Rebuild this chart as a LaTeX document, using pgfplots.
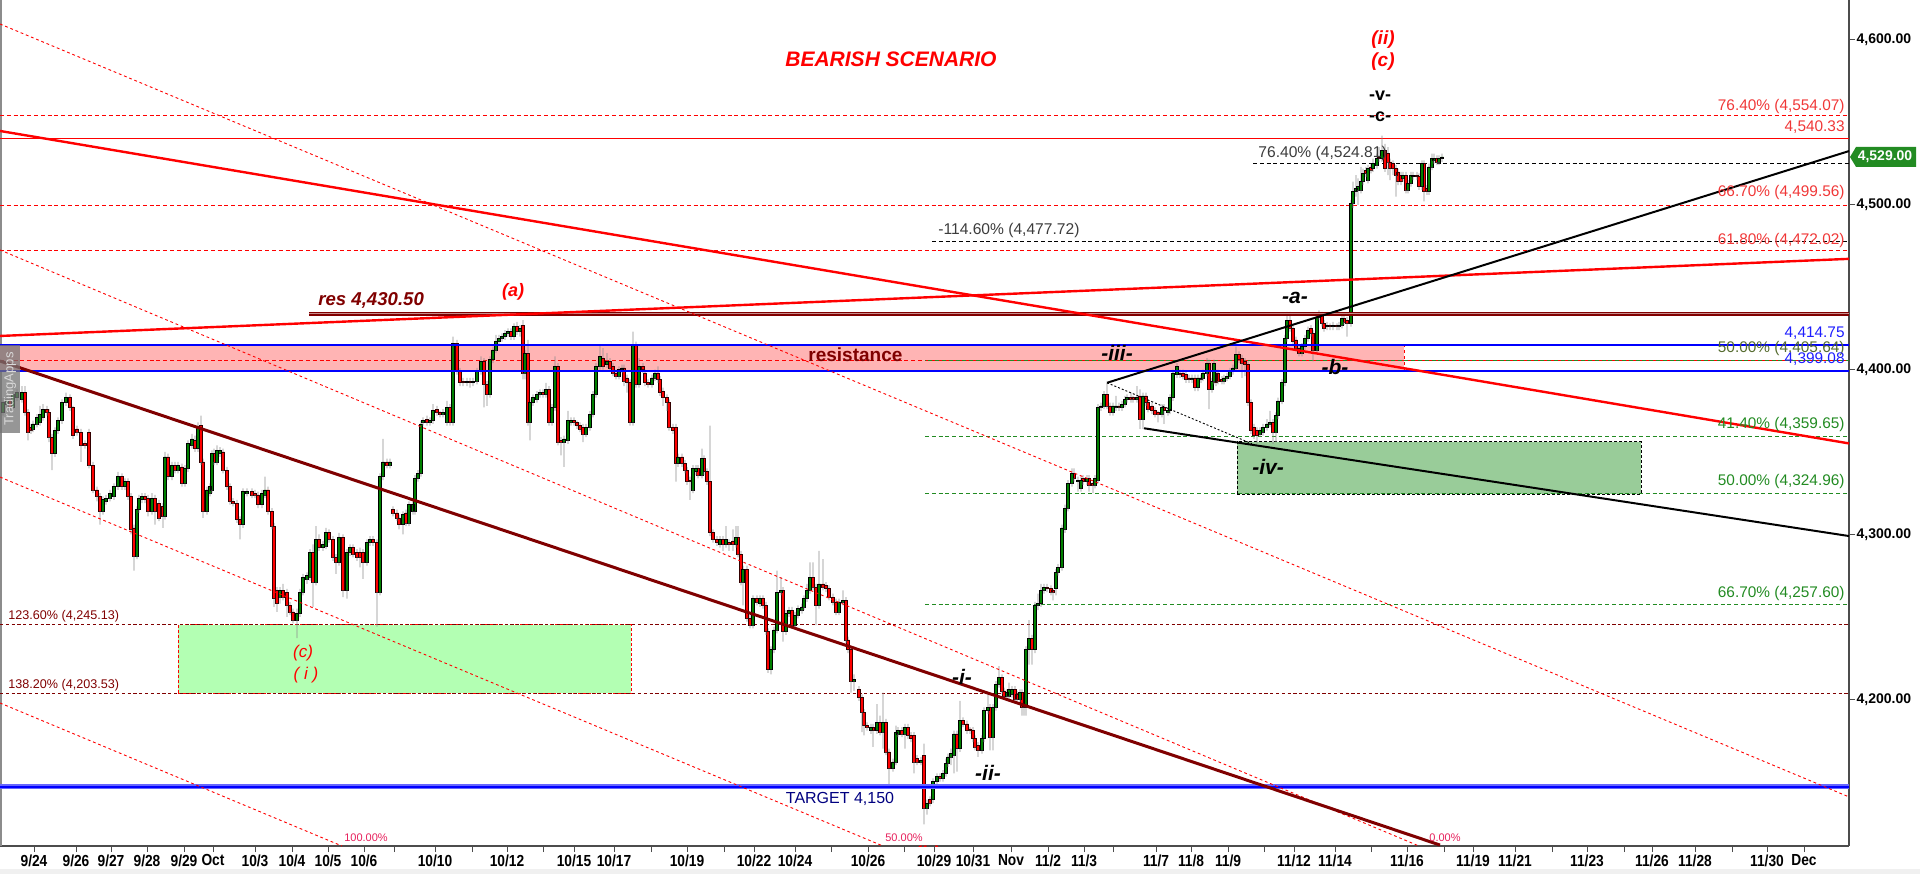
\documentclass[border=0pt]{standalone}
\usepackage{fontspec}
\setmainfont{Liberation Sans}
\usepackage{graphicx}
\usepackage{pgfplots}
\pgfplotsset{compat=1.18}
\usepackage{pgfplotstable}
\newcommand{\fs}[1]{\fontsize{#1}{#1}\selectfont}
\newcommand{\xl}[1]{\scalebox{0.86}[1]{#1}}
\definecolor{lred}{RGB}{240,55,55}
\definecolor{maroon}{RGB}{128,0,0}
\definecolor{lblue}{RGB}{30,30,255}
\definecolor{fgreen}{RGB}{34,139,34}
\definecolor{olivet}{RGB}{85,107,47}
\definecolor{pinkband}{RGB}{255,180,180}
\definecolor{lgreen}{RGB}{179,255,179}
\definecolor{dgreen}{RGB}{153,204,153}
\definecolor{candleg}{RGB}{0,128,0}
\definecolor{navyt}{RGB}{0,0,128}
\definecolor{tagg}{RGB}{34,139,34}
\definecolor{pinkt}{RGB}{230,30,90}
\definecolor{dgray}{RGB}{60,60,60}
\pgfplotsset{chartgeom/.style={scale only axis, width=924.5pt, height=423pt, xmin=0, xmax=1849, ymin=4110.92, ymax=4624.27}}

\pgfplotstableread{
x o h l c
3 4374 4383 4372 4380
7 4379 4384 4377 4382
10 4382 4384 4375 4377
13 4377 4388 4375 4385
17 4383 4388 4381 4386
22 4382 4390 4380 4386
25 4386 4390 4372 4374
28 4374 4376 4357 4362
31 4365 4367 4361 4363
33 4364 4369 4362 4367
37 4367 4373 4365 4371
40 4368 4378 4366 4373
43 4371 4379 4369 4376
47 4376 4378 4372 4374
49 4374 4376 4356 4359
52 4359 4361 4339 4349
55 4349 4365 4347 4363
58 4363 4371 4361 4369
62 4369 4382 4367 4380
66 4380 4386 4378 4383
70 4383 4385 4375 4377
73 4377 4378 4358 4360
77 4364 4366 4360 4362
81 4362 4364 4344 4354
85 4355 4357 4352 4354
89 4362 4364 4340 4342
93 4342 4344 4325 4327
97 4327 4329 4320 4323
100 4323 4325 4306 4314
103 4314 4323 4312 4321
106 4320 4324 4318 4322
110 4322 4327 4320 4325
114 4323 4331 4321 4329
118 4329 4338 4327 4335
122 4335 4337 4327 4329
125 4329 4334 4327 4332
128 4332 4334 4321 4323
131 4323 4325 4300 4303
134 4304 4306 4278 4287
137 4287 4317 4285 4315
139 4315 4324 4313 4322
142 4321 4325 4319 4323
145 4323 4325 4319 4321
148 4322 4324 4311 4314
152 4314 4325 4312 4322
155 4322 4324 4306 4314
159 4319 4321 4308 4310
163 4317 4319 4304 4311
165 4311 4350 4309 4347
168 4347 4349 4333 4335
172 4335 4344 4333 4342
175 4342 4344 4337 4339
178 4339 4344 4337 4342
182 4341 4343 4329 4331
185 4331 4342 4329 4340
188 4340 4357 4338 4355
192 4354 4361 4352 4358
195 4357 4360 4350 4352
198 4352 4368 4350 4365
201 4366 4372 4342 4344
203 4344 4346 4310 4314
207 4314 4329 4312 4327
210 4325 4331 4323 4329
212 4327 4351 4325 4349
214 4349 4352 4342 4344
217 4344 4354 4342 4351
220 4349 4353 4347 4351
223 4350 4352 4337 4339
227 4339 4341 4327 4329
230 4329 4331 4318 4320
233 4320 4322 4317 4319
237 4319 4321 4307 4309
240 4309 4311 4297 4306
243 4306 4328 4304 4326
247 4325 4328 4323 4326
252 4326 4328 4322 4324
255 4325 4327 4322 4324
258 4324 4326 4316 4318
262 4318 4327 4316 4325
265 4324 4335 4322 4327
268 4327 4329 4312 4314
272 4314 4316 4303 4305
274 4305 4307 4256 4261
277 4266 4268 4253 4258
280 4262 4268 4258 4266
283 4266 4270 4260 4262
287 4265 4267 4250 4257
290 4257 4259 4251 4253
293 4253 4255 4246 4248
297 4248 4255 4237 4252
300 4252 4267 4250 4265
303 4265 4276 4263 4274
307 4273 4277 4270 4275
310 4274 4291 4272 4289
313 4289 4294 4256 4271
316 4271 4305 4269 4297
319 4297 4300 4290 4292
323 4292 4296 4290 4294
326 4293 4304 4291 4301
329 4301 4303 4295 4297
333 4297 4299 4284 4286
336 4286 4288 4276 4283
339 4283 4301 4281 4298
343 4298 4300 4262 4266
347 4266 4291 4261 4289
350 4289 4294 4287 4292
353 4292 4294 4286 4288
357 4289 4291 4284 4286
360 4289 4292 4280 4286
363 4289 4291 4273 4283
367 4283 4297 4281 4295
370 4295 4299 4293 4297
373 4297 4299 4293 4295
377 4295 4297 4244 4265
380 4265 4337 4263 4335
383 4335 4358 4333 4344
387 4344 4346 4340 4342
390 4342 4346 4340 4344
393 4315 4317 4311 4313
397 4313 4315 4308 4310
399 4310 4312 4303 4306
403 4306 4314 4300 4312
406 4313 4315 4305 4307
409 4307 4320 4305 4318
413 4314 4320 4312 4318
415 4314 4336 4312 4334
418 4334 4339 4332 4337
421 4337 4369 4335 4367
423 4368 4371 4366 4369
427 4370 4372 4366 4368
430 4368 4371 4366 4369
433 4369 4379 4367 4375
437 4376 4378 4372 4374
440 4374 4375 4371 4373
443 4373 4376 4371 4374
447 4368 4381 4366 4377
450 4377 4379 4366 4368
453 4368 4420 4366 4416
457 4416 4418 4397 4399
460 4399 4401 4390 4392
463 4393 4395 4390 4392
467 4392 4395 4390 4393
470 4393 4395 4389 4392
473 4392 4395 4390 4393
477 4393 4401 4391 4399
481 4399 4408 4397 4405
484 4405 4407 4377 4391
487 4391 4393 4378 4385
490 4385 4408 4383 4406
493 4406 4414 4404 4412
496 4412 4421 4410 4417
499 4417 4421 4415 4419
502 4419 4422 4417 4420
505 4420 4424 4418 4422
508 4422 4425 4420 4423
511 4423 4425 4418 4420
514 4420 4428 4418 4426
517 4426 4429 4421 4423
520 4423 4427 4420 4425
523 4427 4430 4394 4398
525 4398 4412 4394 4410
528 4410 4418 4366 4368
530 4368 4382 4357 4380
533 4380 4385 4378 4383
537 4382 4387 4380 4385
540 4385 4388 4383 4386
543 4386 4388 4383 4385
546 4385 4392 4383 4388
549 4388 4390 4366 4368
552 4368 4379 4366 4377
555 4377 4408 4375 4402
558 4402 4404 4354 4356
561 4357 4359 4348 4356
564 4356 4360 4341 4358
568 4357 4375 4355 4369
571 4368 4371 4366 4369
574 4369 4371 4366 4368
577 4368 4369 4364 4366
580 4366 4368 4362 4364
583 4365 4367 4356 4361
586 4361 4367 4359 4365
590 4365 4375 4363 4373
593 4373 4387 4371 4385
596 4385 4404 4383 4402
600 4402 4415 4400 4408
603 4407 4413 4400 4402
607 4403 4410 4401 4405
610 4405 4407 4399 4401
613 4402 4404 4396 4398
616 4398 4400 4394 4396
619 4396 4402 4394 4400
622 4400 4403 4398 4401
624 4401 4403 4390 4393
627 4395 4397 4386 4392
630 4392 4394 4366 4368
633 4368 4423 4366 4415
636 4415 4417 4389 4391
639 4391 4407 4389 4402
643 4402 4404 4398 4400
645 4398 4400 4390 4392
648 4392 4394 4389 4391
652 4391 4397 4389 4395
655 4395 4400 4393 4398
658 4398 4402 4392 4394
660 4394 4396 4384 4386
663 4387 4389 4378 4383
667 4383 4385 4375 4380
669 4380 4382 4363 4365
673 4365 4367 4361 4363
676 4365 4367 4332 4343
678 4343 4349 4341 4347
682 4347 4349 4341 4343
685 4343 4345 4337 4339
687 4339 4341 4330 4332
690 4333 4335 4321 4332
693 4327 4342 4325 4340
696 4338 4342 4336 4340
698 4340 4342 4334 4336
702 4336 4352 4334 4346
704 4346 4348 4336 4338
707 4338 4340 4330 4332
710 4332 4366 4299 4301
713 4301 4303 4295 4297
717 4297 4299 4293 4295
720 4294 4299 4292 4297
723 4297 4299 4290 4294
726 4294 4305 4292 4297
729 4295 4297 4290 4294
733 4296 4303 4290 4294
736 4294 4305 4292 4298
738 4298 4305 4286 4288
741 4288 4290 4269 4271
743 4271 4281 4257 4279
747 4279 4281 4247 4249
750 4249 4251 4243 4245
753 4245 4263 4243 4261
757 4261 4263 4257 4259
760 4258 4263 4256 4261
763 4261 4263 4255 4257
766 4257 4259 4239 4241
768 4241 4243 4216 4218
771 4218 4232 4215 4230
774 4230 4244 4228 4242
777 4242 4278 4240 4265
781 4265 4274 4263 4266
783 4266 4268 4235 4241
786 4241 4254 4239 4252
789 4252 4256 4250 4254
792 4254 4256 4243 4245
795 4245 4253 4243 4251
798 4251 4257 4249 4255
802 4254 4258 4252 4256
804 4256 4263 4254 4261
807 4261 4270 4259 4266
810 4266 4283 4264 4274
813 4274 4283 4266 4268
816 4268 4270 4245 4257
819 4257 4290 4255 4270
823 4270 4285 4266 4268
826 4269 4271 4265 4267
829 4267 4269 4260 4262
833 4262 4264 4257 4259
836 4259 4261 4251 4253
839 4253 4261 4251 4259
843 4259 4266 4257 4260
846 4260 4262 4234 4236
848 4236 4238 4228 4230
851 4230 4232 4204 4211
854 4211 4215 4205 4212
859 4206 4208 4199 4201
862 4201 4203 4180 4192
864 4192 4194 4178 4184
867 4184 4186 4181 4183
871 4181 4185 4179 4183
873 4183 4185 4171 4181
877 4181 4197 4179 4186
880 4186 4190 4178 4180
883 4180 4204 4170 4186
886 4186 4188 4166 4168
889 4168 4170 4146 4158
893 4158 4164 4156 4162
896 4162 4184 4160 4180
898 4179 4183 4177 4181
902 4181 4183 4177 4179
905 4179 4185 4170 4183
908 4183 4185 4176 4178
911 4178 4180 4174 4176
914 4178 4180 4155 4162
917 4164 4166 4160 4162
921 4162 4165 4160 4163
924 4166 4173 4124 4134
927 4134 4139 4130 4137
930 4139 4141 4135 4137
933 4139 4152 4137 4150
937 4150 4155 4148 4153
940 4153 4155 4150 4152
943 4152 4157 4150 4155
946 4155 4164 4153 4161
948 4161 4167 4159 4165
951 4165 4170 4160 4167
954 4166 4181 4155 4179
957 4179 4181 4156 4170
960 4170 4199 4168 4187
963 4187 4189 4183 4185
967 4185 4187 4179 4181
970 4182 4183 4179 4181
973 4181 4183 4174 4176
975 4176 4178 4169 4171
978 4172 4174 4165 4169
982 4169 4178 4167 4176
984 4176 4195 4174 4193
988 4193 4204 4191 4195
990 4195 4197 4169 4177
993 4177 4197 4169 4195
996 4195 4211 4193 4209
999 4209 4220 4207 4213
1002 4213 4215 4203 4205
1004 4205 4207 4200 4202
1007 4202 4206 4200 4204
1009 4202 4210 4200 4206
1012 4203 4208 4201 4206
1015 4206 4208 4198 4200
1017 4203 4205 4198 4200
1020 4200 4206 4198 4204
1022 4204 4206 4190 4195
1024 4197 4199 4190 4195
1026 4195 4232 4190 4230
1029 4230 4248 4221 4237
1032 4237 4239 4221 4230
1035 4230 4259 4228 4257
1038 4257 4264 4254 4258
1041 4258 4270 4256 4266
1044 4266 4270 4264 4268
1047 4268 4270 4265 4267
1051 4267 4269 4263 4265
1053 4266 4267 4260 4265
1056 4267 4279 4263 4277
1058 4277 4282 4275 4280
1062 4280 4306 4278 4304
1065 4303 4318 4301 4316
1068 4316 4333 4314 4331
1072 4331 4340 4329 4337
1074 4337 4340 4332 4334
1078 4332 4335 4326 4333
1081 4328 4335 4326 4333
1083 4334 4336 4330 4332
1087 4332 4336 4330 4334
1089 4334 4336 4326 4330
1093 4331 4332 4325 4330
1095 4330 4336 4328 4334
1098 4333 4379 4331 4377
1101 4377 4380 4375 4378
1104 4378 4387 4376 4385
1107 4385 4392 4376 4378
1110 4378 4380 4372 4374
1113 4374 4380 4372 4378
1116 4377 4384 4375 4378
1119 4378 4380 4375 4377
1122 4377 4381 4375 4379
1125 4379 4384 4377 4382
1127 4382 4385 4380 4383
1131 4383 4386 4380 4382
1133 4383 4384 4380 4382
1137 4382 4390 4380 4383
1140 4384 4388 4364 4370
1143 4370 4386 4364 4384
1146 4384 4386 4378 4380
1148 4380 4382 4374 4376
1152 4378 4380 4373 4375
1155 4375 4377 4371 4373
1158 4374 4375 4368 4373
1162 4373 4379 4371 4377
1164 4377 4379 4367 4375
1168 4374 4377 4372 4375
1170 4375 4385 4373 4383
1173 4383 4400 4381 4398
1177 4397 4404 4395 4402
1180 4398 4400 4395 4397
1183 4398 4400 4394 4396
1186 4397 4399 4392 4394
1189 4395 4397 4392 4394
1192 4394 4397 4392 4395
1195 4395 4397 4387 4389
1198 4389 4397 4387 4395
1201 4394 4397 4392 4395
1203 4395 4400 4393 4398
1207 4398 4407 4396 4404
1209 4404 4406 4376 4388
1212 4388 4395 4386 4393
1214 4393 4406 4391 4404
1216 4398 4400 4390 4392
1218 4398 4400 4391 4393
1222 4394 4396 4391 4393
1224 4393 4397 4391 4395
1227 4395 4398 4393 4396
1230 4396 4401 4394 4399
1233 4399 4403 4397 4401
1236 4401 4414 4399 4409
1239 4409 4411 4404 4406
1242 4407 4409 4395 4404
1245 4405 4407 4396 4403
1248 4403 4405 4378 4380
1251 4380 4382 4361 4363
1254 4365 4367 4358 4360
1257 4363 4365 4355 4360
1260 4361 4365 4359 4363
1263 4362 4367 4360 4365
1267 4365 4370 4363 4367
1270 4367 4375 4365 4368
1273 4368 4370 4355 4362
1276 4362 4374 4356 4372
1278 4372 4383 4370 4381
1282 4381 4394 4379 4392
1285 4392 4421 4390 4419
1287 4419 4435 4417 4430
1290 4430 4435 4423 4425
1293 4425 4427 4415 4417
1296 4418 4420 4411 4413
1299 4413 4415 4408 4410
1302 4410 4416 4408 4414
1305 4414 4421 4412 4419
1308 4419 4426 4417 4424
1311 4425 4427 4420 4422
1313 4422 4424 4405 4412
1317 4412 4434 4410 4432
1319 4432 4436 4430 4433
1322 4433 4435 4426 4428
1324 4428 4430 4423 4425
1327 4426 4429 4424 4427
1330 4427 4428 4424 4426
1333 4426 4429 4424 4427
1337 4427 4428 4424 4426
1339 4426 4429 4424 4427
1342 4427 4433 4425 4431
1344 4431 4433 4427 4429
1347 4430 4432 4420 4428
1351 4428 4503 4426 4501
1353 4501 4514 4498 4508
1356 4508 4518 4505 4510
1358 4509 4516 4500 4511
1361 4509 4523 4507 4514
1363 4514 4522 4512 4519
1366 4521 4523 4517 4519
1368 4515 4524 4513 4522
1371 4523 4525 4519 4521
1373 4522 4528 4520 4525
1377 4524 4531 4522 4528
1379 4529 4535 4526 4528
1382 4528 4542 4526 4533
1385 4533 4537 4520 4522
1388 4531 4535 4518 4526
1390 4526 4528 4515 4522
1393 4525 4527 4518 4522
1396 4522 4524 4505 4518
1398 4520 4522 4512 4514
1401 4518 4520 4512 4514
1403 4516 4520 4514 4518
1406 4518 4520 4507 4509
1408 4509 4515 4507 4513
1411 4513 4520 4511 4518
1413 4517 4520 4515 4518
1417 4518 4520 4515 4517
1419 4517 4519 4509 4511
1422 4511 4527 4509 4525
1424 4525 4527 4502 4508
1427 4510 4512 4506 4508
1429 4508 4525 4506 4523
1432 4523 4531 4521 4528
1434 4527 4531 4525 4528
1437 4528 4530 4524 4526
1439 4526 4530 4524 4528
1442 4528 4531 4526 4529
}\candles

\begin{document}
\begin{tikzpicture}
% ---------------- axis 1: frame, ticks, zones, levels ----------------
\begin{axis}[chartgeom,
  axis x line*=bottom, axis y line*=right,
  axis line style={draw=black!70, line width=0.6pt},
  clip=false,
  tick align=outside, major tick length=3pt,
  tick style={draw=black!70, line width=0.5pt},
  xtick={34,76,111,147,184,213,255,292,328,364,394,435,472,507,543,574,614,651,687,724,754,795,831,868,904,934,973,1011,1048,1084,1113,1156,1191,1228,1264,1294,1335,1371,1407,1444,1473,1515,1552,1587,1624,1652,1695,1732,1767,1804},
  xticklabels={\xl{9/24},\xl{9/26},\xl{9/27},\xl{9/28},\xl{9/29},\xl{Oct},\xl{10/3},\xl{10/4},\xl{10/5},\xl{10/6},{},\xl{10/10},{},\xl{10/12},{},\xl{10/15},\xl{10/17},{},\xl{10/19},{},\xl{10/22},\xl{10/24},{},\xl{10/26},{},\xl{10/29},\xl{10/31},\xl{Nov},\xl{11/2},\xl{11/3},{},\xl{11/7},\xl{11/8},\xl{11/9},{},\xl{11/12},\xl{11/14},{},\xl{11/16},{},\xl{11/19},\xl{11/21},{},\xl{11/23},{},\xl{11/26},\xl{11/28},{},\xl{11/30},\xl{Dec}},
  ytick={4200,4300,4400,4500,4600},
  yticklabels={{4,200.00},{4,300.00},{4,400.00},{4,500.00},{4,600.00}},
  xticklabel style={font=\fs{8}\bfseries, inner sep=1pt, text=black},
  yticklabel style={font=\fs{7}\bfseries, inner sep=0.6pt, anchor=west, text=black},
]
\fill[black!6] (axis cs:0,4093.93) rectangle (axis cs:1920,4096.96);
\draw[black!45, line width=0.6pt] (axis cs:1,4110.92) -- (axis cs:1,4624.27);

\addplot[draw=none, fill=pinkband] coordinates {(0,4399.08) (1404,4399.08) (1404,4414.75) (0,4414.75)} -- cycle;
\addplot[red, dash pattern=on 1.5pt off 1.5pt, line width=0.4pt] coordinates {(1404,4399.08) (1404,4414.75)};
\addplot[fill=lgreen, draw=red, dash pattern=on 1.5pt off 1pt, line width=0.5pt] coordinates {(178,4203.53) (631,4203.53) (631,4245.13) (178,4245.13)} -- cycle;
\addplot[fill=dgreen, draw=black, dash pattern=on 1.5pt off 1pt, line width=0.4pt] coordinates {(1237,4324.5) (1641,4324.5) (1641,4356.3) (1237,4356.3)} -- cycle;

\addplot[red, line width=0.5pt, dash pattern=on 2pt off 1.4pt] coordinates {(0,4554.07) (1849,4554.07)};
\addplot[red, line width=0.6pt] coordinates {(0,4540.33) (1849,4540.33)};
\addplot[black, line width=0.5pt, dash pattern=on 2pt off 1.4pt] coordinates {(1253,4524.81) (1849,4524.81)};
\addplot[red, line width=0.5pt, dash pattern=on 2pt off 1.4pt] coordinates {(0,4499.56) (1849,4499.56)};
\addplot[black, line width=0.5pt, dash pattern=on 2pt off 1.4pt] coordinates {(932,4477.72) (1849,4477.72)};
\addplot[red, line width=0.5pt, dash pattern=on 2pt off 1.4pt] coordinates {(0,4472.02) (1849,4472.02)};
\addplot[red, line width=0.5pt, dash pattern=on 2pt off 1.4pt] coordinates {(0,4405.64) (1849,4405.64)};
\addplot[fgreen, line width=0.5pt, dash pattern=on 2pt off 1.4pt, dash phase=1.7pt] coordinates {(925,4405.64) (1849,4405.64)};
\addplot[fgreen, line width=0.5pt, dash pattern=on 2pt off 1.4pt] coordinates {(925,4359.65) (1849,4359.65)};
\addplot[fgreen, line width=0.5pt, dash pattern=on 2pt off 1.4pt] coordinates {(925,4324.96) (1849,4324.96)};
\addplot[fgreen, line width=0.5pt, dash pattern=on 2pt off 1.4pt] coordinates {(925,4257.60) (1849,4257.60)};
\addplot[maroon, line width=0.5pt, dash pattern=on 1.6pt off 1.3pt] coordinates {(0,4245.13) (1849,4245.13)};
\addplot[maroon, line width=0.5pt, dash pattern=on 1.6pt off 1.3pt] coordinates {(0,4203.53) (1849,4203.53)};
\end{axis}

% ---------------- axis 2: candlesticks (stacked floating bars) ----------------
\begin{axis}[chartgeom, hide axis, ybar stacked]
\addplot[draw=none, fill=none, bar width=1.5pt] table[x=x, y=l] {\candles};
\addplot[draw=none, fill=black!45, bar width=0.45pt] table[x=x, y expr={min(\thisrow{o},\thisrow{c})-\thisrow{l}}] {\candles};
\addplot[fill=candleg, draw=black, line width=0.3pt, bar width=1.5pt] table[x=x, y expr={max(\thisrow{c}-\thisrow{o},0)}] {\candles};
\addplot[fill=red, draw=black!80!red, line width=0.3pt, bar width=1.5pt] table[x=x, y expr={max(\thisrow{o}-\thisrow{c},0)}] {\candles};
\addplot[draw=none, fill=black!45, bar width=0.45pt] table[x=x, y expr={\thisrow{h}-max(\thisrow{o},\thisrow{c})}] {\candles};
\node[text=red, font=\fs{10}\bfseries\itshape] at (axis cs:927,4105.5) {(b)};
\end{axis}

% ---------------- axis 3: drawings and annotations ----------------
\begin{axis}[chartgeom, hide axis, clip=false]
\addplot[maroon, line width=2pt] coordinates {(309,4434) (1849,4434)};
\addplot[maroon!45!white, line width=0.6pt] coordinates {(309,4434) (1849,4434)};
\addplot[blue, line width=1pt] coordinates {(0,4414.75) (1849,4414.75)};
\addplot[blue, line width=1pt] coordinates {(0,4399.08) (1849,4399.08)};
\addplot[blue!60!white, line width=2.2pt] coordinates {(0,4147) (1849,4147)};
\addplot[blue, line width=1pt] coordinates {(0,4147) (1849,4147)};

\addplot[red, line width=0.45pt, dash pattern=on 1.4pt off 1.4pt] coordinates {(0,4609.7) (1849,4140.7)};
\addplot[red, line width=0.45pt, dash pattern=on 1.4pt off 1.4pt] coordinates {(0,4472.6) (1419,4110.92)};
\addplot[red, line width=0.45pt, dash pattern=on 1.4pt off 1.4pt] coordinates {(0,4334.8) (883,4110.92)};
\addplot[red, line width=0.45pt, dash pattern=on 1.4pt off 1.4pt] coordinates {(0,4197.7) (342,4110.92)};

\addplot[red, line width=1.2pt] coordinates {(0,4544.8) (1849,4355.2)};
\addplot[red, line width=1.2pt] coordinates {(0,4420.4) (1849,4467.2)};
\addplot[maroon, line width=1.5pt] coordinates {(0,4405.2) (1440,4111.5)};
\addplot[black, line width=1pt] coordinates {(1107,4392) (1849,4532.6)};
\addplot[black, line width=1pt] coordinates {(1144,4364.4) (1849,4299.0)};
\addplot[black, line width=0.45pt, dash pattern=on 1pt off 1pt] coordinates {(1107,4392) (1252,4355)};

\fill[black!55, opacity=0.75] (axis cs:0,4361.5) rectangle (axis cs:20,4414.9);
\node[rotate=90, text=white!85!black, font=\fs{6.5}, inner sep=0] at (axis cs:10,4388.2) {TradingApps};

\node[text=red, font=\fs{10.5}\bfseries\itshape] at (axis cs:891,4588.5) {BEARISH SCENARIO};
\node[text=red, font=\fs{9.5}\bfseries\itshape] at (axis cs:1383,4600.0) {(ii)};
\node[text=red, font=\fs{9.5}\bfseries\itshape] at (axis cs:1383,4586.6) {(c)};
\node[text=black, font=\fs{9}\bfseries] at (axis cs:1380,4566.0) {-v-};
\node[text=black, font=\fs{9}\bfseries] at (axis cs:1380,4553.3) {-c-};
\node[anchor=west, text=dgray, font=\fs{7.8}, inner sep=0] at (axis cs:1258,4531.4) {76.40\% (4,524.81)};
\node[anchor=west, text=dgray, font=\fs{7.8}, inner sep=0] at (axis cs:938,4484.7) {-114.60\% (4,477.72)};
\node[anchor=west, text=maroon, font=\fs{9.3}\bfseries\itshape, inner sep=0] at (axis cs:318,4442.2) {res 4,430.50};
\node[text=red, font=\fs{9}\bfseries\itshape] at (axis cs:513,4447.1) {(a)};
\node[anchor=west, text=maroon, font=\fs{9.5}\bfseries, inner sep=0] at (axis cs:808,4408.9) {resistance};
\node[text=black, font=\fs{10.5}\bfseries\itshape] at (axis cs:1117,4410.1) {-iii-};
\node[text=black, font=\fs{10.5}\bfseries\itshape] at (axis cs:1295,4443.4) {-a-};
\node[text=black, font=\fs{10.5}\bfseries\itshape] at (axis cs:1335,4401.6) {-b-};
\node[text=black, font=\fs{10.5}\bfseries\itshape] at (axis cs:1268,4340.9) {-iv-};
\node[text=black, font=\fs{10.5}\bfseries\itshape] at (axis cs:962,4213.5) {-i-};
\node[text=black, font=\fs{10.5}\bfseries\itshape] at (axis cs:988,4155.2) {-ii-};
\node[text=red, font=\fs{8.5}\itshape] at (axis cs:303,4228.0) {(c)};
\node[text=red, font=\fs{8.5}\itshape] at (axis cs:306,4214.7) {( i )};
\node[text=navyt, font=\fs{8}] at (axis cs:840,4139.4) {TARGET 4,150};
\node[text=pinkt, font=\fs{5.5}] at (axis cs:366,4115.8) {100.00\%};
\node[text=pinkt, font=\fs{5.5}] at (axis cs:904,4115.8) {50.00\%};
\node[text=pinkt, font=\fs{5.5}] at (axis cs:1445,4115.8) {0.00\%};
\node[anchor=west, text=maroon, font=\fs{6.3}, inner sep=0] at (axis cs:8,4250.5) {123.60\% (4,245.13)};
\node[anchor=west, text=maroon, font=\fs{6.3}, inner sep=0] at (axis cs:8,4208.6) {138.20\% (4,203.53)};
\node[anchor=east, text=lred, font=\fs{7.7}, inner sep=0] at (axis cs:1845,4559.9) {76.40\% (4,554.07)};
\node[anchor=east, text=lred, font=\fs{7.7}, inner sep=0] at (axis cs:1845,4547.2) {4,540.33};
\node[anchor=east, text=lred, font=\fs{7.7}, inner sep=0] at (axis cs:1845,4507.2) {66.70\% (4,499.56)};
\node[anchor=east, text=lred, font=\fs{7.7}, inner sep=0] at (axis cs:1845,4478.6) {61.80\% (4,472.02)};
\node[anchor=east, text=lblue, font=\fs{7.7}, inner sep=0] at (axis cs:1845,4422.2) {4,414.75};
\node[anchor=east, text=olivet, font=\fs{7.7}, inner sep=0] at (axis cs:1845,4412.5) {50.00\% (4,405.64)};
\node[anchor=east, text=lblue, font=\fs{7.7}, inner sep=0] at (axis cs:1845,4406.4) {4,399.08};
\node[anchor=east, text=fgreen, font=\fs{7.7}, inner sep=0] at (axis cs:1845,4366.4) {41.40\% (4,359.65)};
\node[anchor=east, text=fgreen, font=\fs{7.7}, inner sep=0] at (axis cs:1845,4331.8) {50.00\% (4,324.96)};
\node[anchor=east, text=fgreen, font=\fs{7.7}, inner sep=0] at (axis cs:1845,4264.4) {66.70\% (4,257.60)};
\fill[tagg] (axis cs:1850,4529) -- (axis cs:1856,4535.1) -- (axis cs:1916,4535.1) -- (axis cs:1916,4523.0) -- (axis cs:1856,4523.0) -- cycle;
\node[text=white, font=\fs{7}\bfseries, inner sep=0] at (axis cs:1885,4529) {4,529.00};
\end{axis}
\pgfresetboundingbox
\path ([yshift=-14pt]current axis.south west) rectangle ([xshift=35.5pt]current axis.north east);
\end{tikzpicture}
\end{document}
